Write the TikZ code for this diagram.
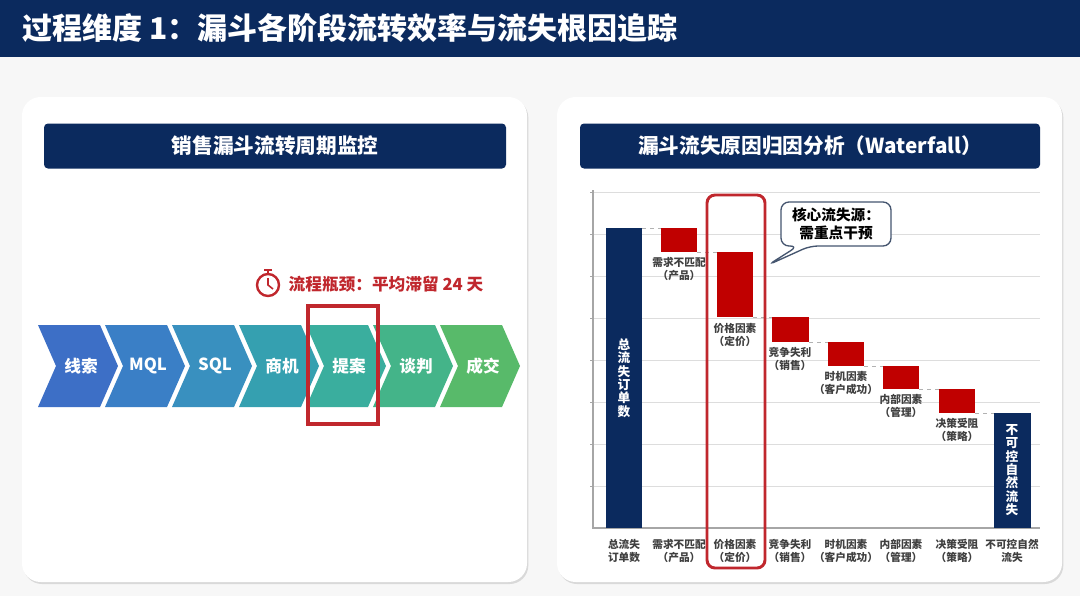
\documentclass[tikz,border=0pt]{standalone}
\usepackage{fontspec}
\setmainfont{Noto Sans CJK SC}
\usetikzlibrary{shadows}
\definecolor{navy}{HTML}{0B2A5E}
\definecolor{rbar}{HTML}{C00000}
\definecolor{hred}{HTML}{C0272D}
\definecolor{gridc}{HTML}{DDDDDD}
\begin{document}
\begin{tikzpicture}[x=0.75pt,y=-0.75pt,
 panel/.style={draw=none,fill=white,rounded corners=14pt,drop shadow={shadow xshift=1pt,shadow yshift=-1.5pt,opacity=0.25}},
 tbar/.style={fill=navy,rounded corners=3pt,text=white,font=\bfseries\fontsize{15.5}{18}\selectfont},
 lbl/.style={font=\bfseries\fontsize{8}{9.5}\selectfont,text=black!75,align=center},
 bar/.style={fill=rbar},
 nbar/.style={fill=navy},
 con/.style={draw=gray!60,dashed,line width=0.4pt},
 chev/.style={text=white,font=\bfseries\fontsize{12.5}{14}\selectfont}]
\fill[white!94!gray] (0,0) rectangle (1080,596);
\useasboundingbox (0,0) rectangle (1080,596);
\fill[navy] (0,0) rectangle (1080,57);
\node[anchor=west,text=white,font=\bfseries\fontsize{22.5}{26}\selectfont] (title) at (18,28) {过程维度 1：漏斗各阶段流转效率与流失根因追踪};
\path[panel] (22,97) rectangle (527,582);
\path[panel] (557,97) rectangle (1062,582);
\node[tbar,minimum width=462*0.75pt,minimum height=45*0.75pt] (lt) at (275,146) {销售漏斗流转周期监控};
\node[tbar,minimum width=460*0.75pt,minimum height=45*0.75pt] (rt) at (810,146) {漏斗流失原因归因分析（Waterfall）};
% chevrons
\foreach \i/\t/\c in {0/线索/3D6FC6,1/MQL/3A7FC6,2/SQL/3990BF,3/商机/35A0B0,4/提案/3AAE9E,5/谈判/44B489,6/成交/58BA6A}{
 \pgfmathsetmacro\xx{38+67*\i}
 \definecolor{cc}{HTML}{\c}
 \fill[cc] (\xx,325) -- (\xx+62,325) -- (\xx+80,366) -- (\xx+62,407) -- (\xx,407) -- (\xx+18,366) -- cycle;
 \node[chev] (ch\i) at (\xx+43,366) {\t};
}
\draw[hred,line width=2.6pt] (308,306) rectangle (378,424);
% stopwatch
\draw[hred,line width=1.8pt] (268,285) circle (11);
\draw[hred,line width=1.8pt] (268,274) -- (268,270) (264,270) -- (272,270);
\draw[hred,line width=1.2pt] (268,278) -- (268,285) -- (273,289);
\node[anchor=west,text=hred,font=\bfseries\fontsize{12.5}{14}\selectfont] (bn) at (284,284) {流程瓶颈：平均滞留 24 天};
% grid
\foreach \y in {192,234,276,318,360,402,444,486}{\draw[gridc,line width=0.6pt] (593,\y) -- (1040,\y);}
\draw[gray!70,line width=0.8pt] (593,190) -- (593,528) -- (1040,528);
\foreach \y in {192,234,276,318,360,402,444,486}{\draw[gray!70] (590,\y)--(593,\y);}
% bars
\fill[nbar] (606,228) rectangle (642,528);
\fill[bar] (661,228) rectangle (697,252);
\fill[bar] (717,252) rectangle (753,317);
\fill[bar] (772,317) rectangle (809,342);
\fill[bar] (828,342) rectangle (864,366);
\fill[bar] (883,366) rectangle (919,389);
\fill[bar] (939,389) rectangle (975,413);
\fill[nbar] (994,413) rectangle (1031,528);
\draw[con] (642,228)--(661,228) (697,252)--(717,252) (753,317)--(772,317) (809,342)--(828,342) (864,366)--(883,366) (919,389)--(939,389) (975,413)--(994,413);
\node[text=white,font=\bfseries\fontsize{9.5}{10}\selectfont,align=center] (v1) at (624,378) {总\\流\\失\\订\\单\\数};
\node[text=white,font=\bfseries\fontsize{9.5}{10}\selectfont,align=center] (v2) at (1012,470) {不\\可\\控\\自\\然\\流\\失};
\node[lbl] (l1) at (679,269) {需求不匹配\\（产品）};
\node[lbl] (l2) at (735,335) {价格因素\\（定价）};
\node[lbl] (l3) at (790,359) {竞争失利\\（销售）};
\node[lbl] (l4) at (846,383) {时机因素\\（客户成功）};
\node[lbl] (l5) at (901,406) {内部因素\\（管理）};
\node[lbl] (l6) at (957,430) {决策受阻\\（策略）};
\foreach \x/\t [count=\k] in {624/总流失\\订单数,679/需求不匹配\\（产品）,735/价格因素\\（定价）,790/竞争失利\\（销售）,846/时机因素\\（客户成功）,901/内部因素\\（管理）,957/决策受阻\\（策略）,1012/不可控自然\\流失}{
 \node[lbl] (b\k) at (\x,551) {\t};
}
\draw[hred,line width=2.2pt,rounded corners=6pt] (707,195) rectangle (765,568);
% callout
\draw[draw=navy!50!gray,fill=white,line width=1pt,rounded corners=6pt] (781,202) -- (891,202) -- (891,246) -- (810,246) -- (768,265) -- (798,246) -- (781,246) -- cycle;
\node[font=\bfseries\fontsize{11}{13.5}\selectfont,align=center] (co) at (836,224) {核心流失源：\\需重点干预};
\end{tikzpicture}
\end{document}
